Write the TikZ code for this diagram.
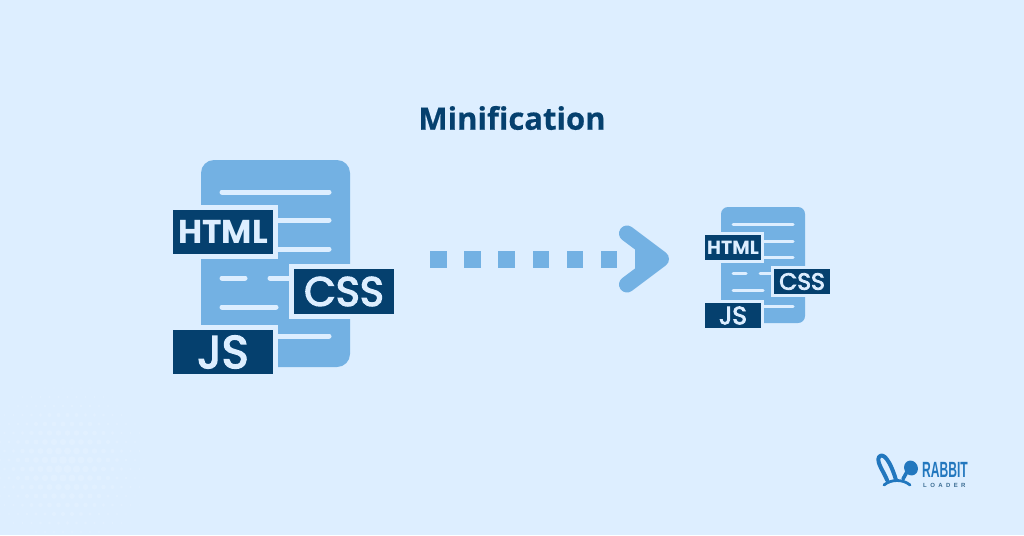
\documentclass[tikz,border=0pt]{standalone}
\usepackage{fontspec}
\setmainfont{Open Sans}
\newfontfamily\tagfont{Poppins}
\newfontfamily\tagfontmid[FakeBold=3.2]{Poppins}
\newfontfamily\logofont{Liberation Sans}
\newfontfamily\titlefont[FakeBold=0.5]{Open Sans Bold}
\definecolor{bgblue}{HTML}{DDEEFF}
\definecolor{dotblue}{HTML}{E1F0FF}
\definecolor{docblue}{HTML}{73B1E3}
\definecolor{navy}{HTML}{05406E}
\definecolor{logoblue}{HTML}{2277BE}
\tikzset{
  x=1pt,y=-1pt,
  docsheet/.style={fill=docblue,rounded corners=#1},
  docline/.style={draw=bgblue,line cap=round},
  tagbox/.style={fill=navy,draw=bgblue,anchor=north west,inner sep=0pt,outer sep=0pt,text=bgblue},
  sqdot/.style={fill=docblue},
}
\begin{document}
\begin{tikzpicture}
\useasboundingbox (0,0) rectangle (1024,535);
\fill[bgblue] (0,0) rectangle (1024,535);
% halftone texture
\begin{scope}
\clip (0,385) rectangle (145,535);
\foreach \i in {0,...,16}{\foreach \j in {0,...,17}{
  \pgfmathsetmacro{\px}{\i*9+mod(\j,2)*4.5}
  \pgfmathsetmacro{\py}{388+\j*9}
  \pgfmathsetmacro{\dd}{sqrt((\px-65)^2+(\py-465)^2)}
  \pgfmathsetmacro{\rr}{max(0.01,4.2*(1-\dd/100))}
  \fill[dotblue] (\px,\py) circle[radius=\rr];
}}
\end{scope}
% title
\node[font=\titlefont\fontsize{31}{36}\selectfont,text=navy,inner sep=0pt] (title) at (512,118) {Minification};
% big document
\fill[docsheet=13] (201,160) rectangle (350,367);
\foreach \y in {192,220,249,336}{\draw[docline,line width=5] (222,\y) -- (329,\y);}
\draw[docline,line width=5] (222,278) -- (245,278);
\draw[docline,line width=5] (270,278) -- (310,278);
\draw[docline,line width=5] (222,307) -- (276,307);
\node[tagbox,line width=5,minimum width=105,minimum height=49,font=\tagfont\bfseries\fontsize{33}{36}\selectfont] (html) at (170.5,207.5) {HTML};
\node[tagbox,line width=5,minimum width=105,minimum height=50,font=\tagfontmid\fontsize{41}{44}\selectfont] (css) at (291.5,266.5) {CSS};
\node[tagbox,line width=5,minimum width=105,minimum height=49,font=\tagfontmid\fontsize{46}{48}\selectfont] (js) at (170.5,327.5) {JS};
% arrow
\foreach \x in {430,464,498,532.5,566.5,600.5}{\fill[sqdot] (\x,251) rectangle ++(16.8,16.5);}
\coordinate (chevtop) at (627,233.5);
\coordinate (chevtip) at (661,259);
\coordinate (chevbot) at (627,284.5);
\fill[docblue] (635,247) -- (660,259) -- (635,271) -- cycle;
\draw[docblue,line width=16,line cap=round,line join=round] (chevtop) -- (chevtip) -- (chevbot);
% small document
\fill[docsheet=7] (721,207) rectangle (805,323);
\foreach \y in {224,241,257,306}{\draw[docline,line width=3] (733,\y) -- (793,\y);}
\draw[docline,line width=3] (733,273) -- (746,273);
\draw[docline,line width=3] (760,273) -- (780,273);
\draw[docline,line width=3] (733,290) -- (763,290);
\node[tagbox,line width=3,minimum width=59,minimum height=28,font=\tagfont\bfseries\fontsize{19}{22}\selectfont] (htmls) at (703.5,233.5) {HTML};
\node[tagbox,line width=3,minimum width=59,minimum height=28,font=\tagfontmid\fontsize{23.5}{26}\selectfont] (csss) at (772.5,267.5) {CSS};
\node[tagbox,line width=3,minimum width=59,minimum height=28,font=\tagfontmid\fontsize{25}{28}\selectfont] (jss) at (703.5,301.5) {JS};
% logo
\draw[logoblue,line width=4,line join=round,line cap=round] (887,480) .. controls (884,472) and (876,462) .. (879,457) .. controls (883,452) and (890,460) .. (896,480);
\fill[logoblue,rotate around={25:(911,468)}] (911,468) ellipse[x radius=6.8,y radius=7.6];
\draw[logoblue,line width=3.6,line cap=round] (903,479) -- (908,470);
\draw[logoblue,line width=2.8,line cap=round] (884,485) .. controls (891,479) and (903,479) .. (910,485);
\node[font=\logofont\bfseries\fontsize{22}{24}\selectfont,text=logoblue,anchor=west,inner sep=0pt,xscale=0.55] (rabbit) at (922,470) {RABBIT};
\node[font=\logofont\bfseries\fontsize{6}{7}\selectfont,text=navy!75!bgblue,anchor=west,inner sep=0pt] (loader) at (923,485.5) {L\hspace{3.4pt}O\hspace{3.4pt}A\hspace{3.4pt}D\hspace{3.4pt}E\hspace{3.4pt}R};
\end{tikzpicture}
\end{document}
